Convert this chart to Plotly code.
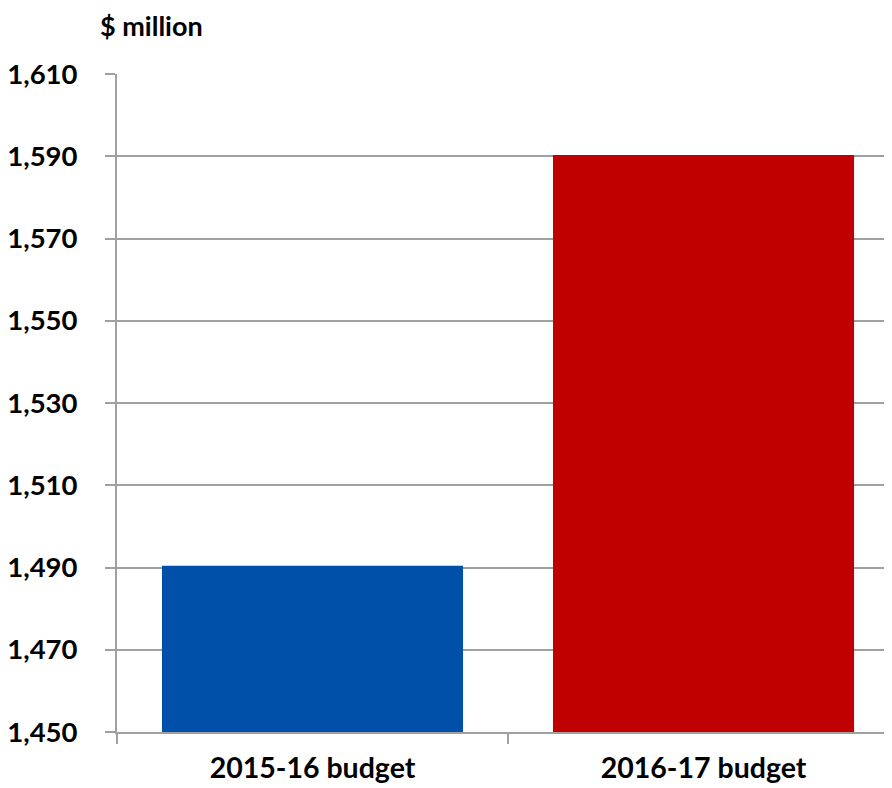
import plotly.graph_objects as go

categories = ["2015-16 budget", "2016-17 budget"]
values = [1490.4, 1590.3]
colors = ["#004FA8", "#C00000"]
y_ticks = [1450, 1470, 1490, 1510, 1530, 1550, 1570, 1590, 1610]
y_tick_text = [f"{v:,}" for v in y_ticks]

yfont = dict(family="Lato", size=27.5, color="#000000", weight=700)
xfont = dict(family="Lato", size=28.5, color="#000000", weight=700)
tfont = dict(family="Lato", size=27, color="#000000", weight=700)

fig = go.Figure(go.Bar(
    x=categories, y=values, marker=dict(color=colors, line=dict(width=0)),
    width=0.77,
))

# plot area: left 109, width 775 (page adds 8px body margin)
fig.update_layout(
    width=884, height=780,
    margin=dict(l=109, r=0, t=66, b=56),
    plot_bgcolor="white", paper_bgcolor="white",
    showlegend=False,
    annotations=[dict(text="$ million", x=(90 - 109) / 775, y=1.0,
                      xref="paper", yref="paper",
                      xanchor="left", yanchor="middle", yshift=49,
                      showarrow=False, font=tfont)],
)

fig.update_yaxes(
    range=[1450, 1610], tickvals=y_ticks, ticktext=y_tick_text,
    showgrid=True, gridcolor="#A0A0A0", gridwidth=2,
    showline=True, linecolor="#A0A0A0", linewidth=2,
    ticks="outside", ticklen=10, tickcolor="#A0A0A0", tickwidth=2,
    ticklabelstandoff=22,
    zeroline=False, tickfont=yfont,
)
fig.update_xaxes(
    type="category", range=[-0.5, 1.482],
    showline=True, linecolor="#A0A0A0", linewidth=2,
    ticks="outside", ticklen=10, tickcolor="#A0A0A0", tickwidth=2,
    tickson="boundaries", showgrid=False, tickfont=xfont,
    ticklabelstandoff=10,
)

fig.write_html("out.html")
